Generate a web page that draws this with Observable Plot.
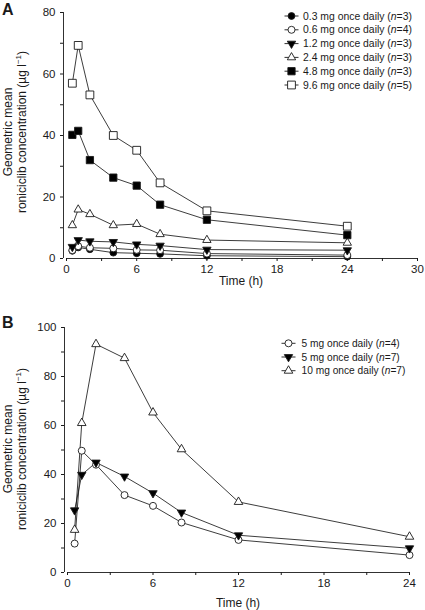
<!DOCTYPE html>
<html>
<head>
<meta charset="utf-8">
<script src="https://cdn.jsdelivr.net/npm/d3@7"></script>
<script src="https://cdn.jsdelivr.net/npm/@observablehq/plot@0.6"></script>
<style>
  html, body { margin: 0; padding: 0; background: #fff; }
  #wrap { width: 425px; height: 610px; position: relative; overflow: hidden; }
  #wrap svg { display: block; }
</style>
</head>
<body>
<div id="wrap"></div>
<script>
// ---------- Data ----------
const timesA = [0.5, 1, 2, 4, 6, 8, 12, 24];
const doseLabelsA = ["0.3 mg once daily", "0.6 mg once daily", "1.2 mg once daily",
                     "2.4 mg once daily", "4.8 mg once daily", "9.6 mg once daily"];
const nA = [3, 4, 3, 3, 3, 5];
const concA_0_3 = [2.5, 3.6, 3.0, 1.9, 1.7, 1.5, 0.9, 0.6];
const concA_0_6 = [2.7, 4.0, 3.5, 3.3, 2.8, 2.7, 1.6, 1.1];
const concA_1_2 = [3.8, 6.0, 5.6, 5.4, 4.6, 4.2, 2.9, 2.7];
const concA_2_4 = [10.8, 15.9, 14.4, 10.8, 11.2, 7.9, 6.0, 5.1];
const concA_4_8 = [40.2, 41.5, 32.0, 26.3, 23.7, 17.5, 12.6, 7.6];
const concA_9_6 = [57.0, 69.3, 53.2, 40.0, 35.2, 24.6, 15.5, 10.5];

const timesB = [0.5, 1, 2, 4, 6, 8, 12, 24];
const doseLabelsB = ["5 mg once daily", "5 mg once daily", "10 mg once daily"];
const nB = [4, 7, 7];
const concB_5_n4 = [11.8, 49.7, 44.0, 31.6, 27.2, 20.4, 13.3, 7.1];
const concB_5_n7 = [25.4, 39.9, 44.9, 39.2, 32.4, 24.5, 15.2, 9.9];
const concB_10_n7 = [17.4, 61.0, 93.2, 87.5, 65.3, 50.3, 28.8, 14.6];

const xTicksA = [0, 3, 6, 9, 12, 15, 18, 21, 24, 27, 30];
const yTicksA = [0, 10, 20, 30, 40, 50, 60, 70, 80];
const xTicksB = [0, 3, 6, 9, 12, 15, 18, 21, 24];
const yTicksB = [0, 10, 20, 30, 40, 50, 60, 70, 80, 90, 100];

// ---------- Symbols ----------
const sqrt3 = Math.sqrt(3);
const triangleDown = {
  draw(context, size) {
    const y = -Math.sqrt(size / (sqrt3 * 3));
    context.moveTo(0, -y * 2);
    context.lineTo(-sqrt3 * y, y);
    context.lineTo(sqrt3 * y, y);
    context.closePath();
  }
};
const S = {
  circle: d3.symbolCircle, triangleUp: d3.symbolTriangle, triangleDown, square: d3.symbolSquare
};

const stylesA = [
  {sym: S.circle, fill: "black", r: 3.4},
  {sym: S.circle, fill: "white", r: 3.5},
  {sym: S.triangleDown, fill: "black", r: 3.1},
  {sym: S.triangleUp, fill: "white", r: 3.1},
  {sym: S.square, fill: "black", r: 4.1},
  {sym: S.square, fill: "white", r: 4.4}
];
const stylesB = [
  {sym: S.circle, fill: "white", r: 3.5},
  {sym: S.triangleDown, fill: "black", r: 3.1},
  {sym: S.triangleUp, fill: "white", r: 3.2}
];

const seriesA = [concA_0_3, concA_0_6, concA_1_2, concA_2_4, concA_4_8, concA_9_6];
const seriesB = [concB_5_n4, concB_5_n7, concB_10_n7];

const rowsA = seriesA.map((vals, i) => vals.map((v, j) => ({t: timesA[j], c: v, s: i})));
const rowsB = seriesB.map((vals, i) => vals.map((v, j) => ({t: timesB[j], c: v, s: i})));

const FONT = "'Liberation Sans', Arial, Helvetica, sans-serif";
const INK = "#1a1a1a";

function seriesMarks(rows, styles) {
  const marks = [];
  rows.forEach((r, i) => {
    marks.push(Plot.line(r, {x: "t", y: "c", stroke: INK, strokeWidth: 0.85}));
  });
  rows.forEach((r, i) => {
    marks.push(Plot.dot(r, {x: "t", y: "c", symbol: styles[i].sym, r: styles[i].r,
      fill: styles[i].fill, stroke: INK, strokeWidth: 0.9}));
  });
  return marks;
}

function makePanel(cfg) {
  return Plot.plot({
    width: 425, height: cfg.height,
    marginLeft: cfg.ml, marginRight: cfg.mr, marginTop: cfg.mt, marginBottom: cfg.mb,
    style: {fontFamily: FONT, fontSize: "11.5px", color: INK, background: "white", overflow: "visible"},
    x: {domain: cfg.xDomain},
    y: {domain: cfg.yDomain},
    marks: [
      Plot.ruleY([0], {stroke: INK, strokeWidth: 0.9}),
      Plot.ruleX([0], {stroke: INK, strokeWidth: 0.9, dx: -3}),
      Plot.axisX({ticks: cfg.xTicks, tickFormat: d => d % 6 === 0 ? String(d) : "",
        tickSize: 3, tickPadding: 3, label: null, stroke: INK, fill: INK}),
      Plot.axisY({ticks: cfg.yTicks, tickFormat: d => d % 20 === 0 ? String(d) : "",
        tickSize: 3, tickPadding: 5, dx: -3, label: null, stroke: INK, fill: INK}),
      ...seriesMarks(cfg.rows, cfg.styles)
    ]
  });
}

function decorate(svgNode, cfg) {
  const svg = d3.select(svgNode);
  // panel letter
  svg.append("text").attr("x", 2).attr("y", cfg.letterY).attr("text-anchor", "start")
    .attr("font-family", FONT).attr("font-weight", "bold").attr("font-size", 16)
    .attr("fill", INK).text(cfg.letter);
  // x axis title
  svg.append("text").attr("x", cfg.xLabelX).attr("y", cfg.xLabelY)
    .attr("text-anchor", "middle").attr("font-family", FONT).attr("font-size", 12)
    .attr("fill", INK).text("Time (h)");
  // y axis title (two lines)
  const yl = svg.append("g").attr("transform", `translate(0,${cfg.yLabelC}) rotate(-90)`)
    .attr("font-family", FONT).attr("font-size", 12).attr("fill", INK).attr("text-anchor", "middle");
  yl.append("text").attr("x", 0).attr("y", 11.5).text("Geometric mean");
  const t2 = yl.append("text").attr("x", 0).attr("y", 26);
  t2.append("tspan").text("roniciclib concentration (µg l");
  t2.append("tspan").attr("font-size", 8).attr("dy", -5).text("−1");
  t2.append("tspan").attr("dy", 5).text(")");
  // legend
  const lg = svg.append("g").attr("font-family", FONT).attr("font-size", cfg.legFont)
    .attr("fill", INK).attr("text-anchor", "start");
  cfg.labels.forEach((lab, i) => {
    const g = lg.append("g").attr("transform", `translate(${cfg.legX},${cfg.legY + i * cfg.legStep})`);
    g.append("line").attr("x1", -7).attr("x2", 7).attr("y1", 0).attr("y2", 0)
      .attr("stroke", INK).attr("stroke-width", 0.9);
    const st = cfg.styles[i];
    g.append("path").attr("d", d3.symbol(st.sym, st.r * st.r * Math.PI)())
      .attr("fill", st.fill).attr("stroke", INK).attr("stroke-width", 0.9);
    const tx = g.append("text").attr("x", cfg.legTextDx).attr("y", 0).attr("dy", "0.35em");
    tx.append("tspan").text(lab + " (");
    tx.append("tspan").attr("font-style", "italic").text("n");
    tx.append("tspan").text("=" + cfg.ns[i] + ")");
  });
}

const wrap = document.getElementById("wrap");

const cfgA = {
  height: 300, ml: 66, mr: 8, mt: 12, mb: 42,
  xDomain: [0, 30], yDomain: [0, 80], xTicks: xTicksA, yTicks: yTicksA,
  rows: rowsA, styles: stylesA,
  letter: "A", letterY: 15, xLabelX: 241, xLabelY: 285, yLabelC: 132,
  labels: doseLabelsA, ns: nA, legX: 291.5, legY: 16, legStep: 13.8, legTextDx: 11.5, legFont: 10.4
};
const cfgB = {
  height: 310, ml: 67, mr: 16, mt: 27, mb: 38,
  xDomain: [0, 24], yDomain: [0, 100], xTicks: xTicksB, yTicks: yTicksB,
  rows: rowsB, styles: stylesB,
  letter: "B", letterY: 28, xLabelX: 238, xLabelY: 307, yLabelC: 449 - 300,
  labels: doseLabelsB, ns: nB, legX: 288.5, legY: 43.3, legStep: 13.7, legTextDx: 13, legFont: 10.2
};

const pA = makePanel(cfgA);
wrap.appendChild(pA);
decorate(pA, cfgA);
const pB = makePanel(cfgB);
wrap.appendChild(pB);
decorate(pB, cfgB);
</script>
</body>
</html>
